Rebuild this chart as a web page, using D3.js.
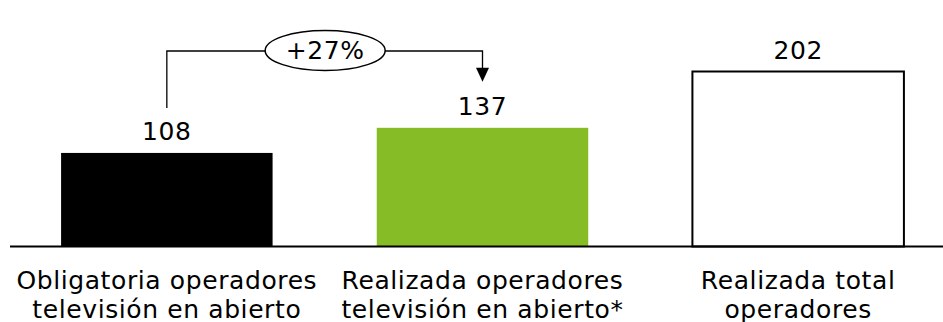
<!DOCTYPE html>
<html>
<head>
<meta charset="utf-8">
<script src="https://cdn.jsdelivr.net/npm/d3@7"></script>
<style>
  html, body { margin: 0; padding: 0; background: #fff; }
  svg { display: block; }
  text { font-family: "DejaVu Sans", Verdana, sans-serif; fill: #000; letter-spacing: 0.6px; }
</style>
</head>
<body>
<svg id="chart" width="943" height="322"></svg>
<script>
// Inversión (valores) por tipo de obligación
const categories = [
  ["Obligatoria operadores", "televisión en abierto"],
  ["Realizada operadores", "televisión en abierto*"],
  ["Realizada total", "operadores"]
];
const values = [108, 137, 202];
const fills = ["#000000", "#86BC25", "#ffffff"];
const strokes = ["none", "none", "#000000"];
const changeLabel = "+27%";

const width = 943, height = 322;
const baseY = 246.5;
const fontSize = 25;
const svg = d3.select("#chart");

const x = d3.scaleBand()
  .domain(d3.range(values.length))
  .range([9, 956])
  .paddingInner(0.33)
  .paddingOuter(0.165);

const y = d3.scaleLinear()
  .domain([0, 202])
  .range([baseY, 71.5]);

// Bars
svg.selectAll("rect.bar")
  .data(values)
  .join("rect")
  .attr("class", "bar")
  .attr("x", (d, i) => x(i))
  .attr("y", d => y(d))
  .attr("width", x.bandwidth())
  .attr("height", d => baseY - y(d))
  .attr("fill", (d, i) => fills[i])
  .attr("stroke", (d, i) => strokes[i])
  .attr("stroke-width", 2);

// Baseline
svg.append("line")
  .attr("x1", 10).attr("x2", width)
  .attr("y1", baseY).attr("y2", baseY)
  .attr("stroke", "#000").attr("stroke-width", 2);

// Value labels
svg.selectAll("text.value")
  .data(values)
  .join("text")
  .attr("class", "value")
  .attr("x", (d, i) => x(i) + x.bandwidth() / 2)
  .attr("y", d => y(d) - 13)
  .attr("text-anchor", "middle")
  .attr("font-size", fontSize)
  .text(d => d);

// Category labels (two lines)
const cat = svg.selectAll("text.cat")
  .data(categories)
  .join("text")
  .attr("class", "cat")
  .attr("text-anchor", "middle")
  .attr("font-size", fontSize);
cat.selectAll("tspan")
  .data((d, i) => d.map(t => ({ t, i })))
  .join("tspan")
  .attr("x", d => x(d.i) + x.bandwidth() / 2)
  .attr("y", (d, j) => 289 + j * 29)
  .text(d => d.t);

// Growth bracket from first to second bar
const cx0 = x(0) + x.bandwidth() / 2;
const cx1 = x(1) + x.bandwidth() / 2;
const topY = 51;
const startY = y(values[0]) - 45;
const arrowTip = y(values[1]) - 46;

svg.append("path")
  .attr("d", `M${cx0},${startY} V${topY} H${cx1} V${arrowTip - 12}`)
  .attr("fill", "none")
  .attr("stroke", "#000")
  .attr("stroke-width", 1.3);

svg.append("path")
  .attr("d", `M${cx1 - 6.5},${arrowTip - 14} L${cx1 + 6.5},${arrowTip - 14} L${cx1},${arrowTip} Z`)
  .attr("fill", "#000");

const ellX = (cx0 + cx1) / 2 + 0.5;
svg.append("ellipse")
  .attr("cx", ellX).attr("cy", 50.5)
  .attr("rx", 60).attr("ry", 20)
  .attr("fill", "#fff")
  .attr("stroke", "#000")
  .attr("stroke-width", 1.5);

svg.append("text")
  .attr("x", ellX)
  .attr("y", 59)
  .attr("text-anchor", "middle")
  .attr("font-size", fontSize)
  .text(changeLabel);
</script>
</body>
</html>
